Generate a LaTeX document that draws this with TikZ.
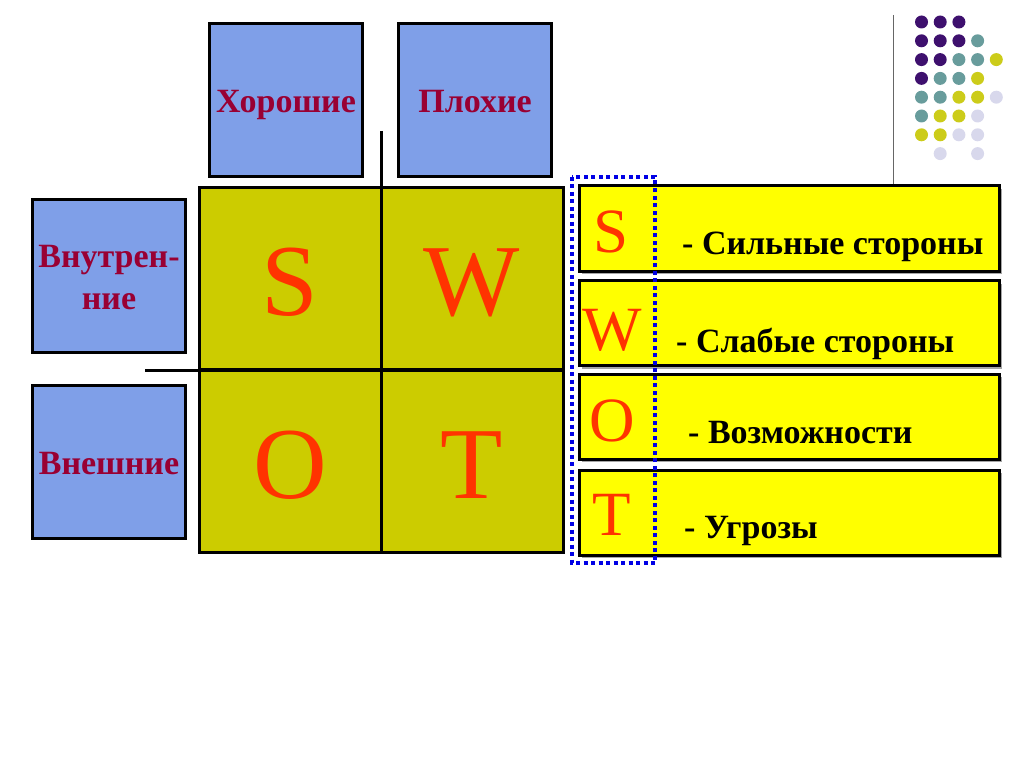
\documentclass[tikz,border=0pt]{standalone}
\usepackage{fontspec}
\setmainfont{Liberation Serif}
\usetikzlibrary{shadows}
\definecolor{swotblue}{RGB}{127,159,232}
\definecolor{swotmaroon}{RGB}{153,0,51}
\definecolor{swotolive}{RGB}{204,204,0}
\definecolor{swotyellow}{RGB}{255,255,0}
\definecolor{swotred}{RGB}{255,51,0}
\definecolor{dotpurple}{RGB}{62,16,110}
\definecolor{dotteal}{RGB}{104,156,156}
\definecolor{dotlime}{RGB}{204,204,26}
\definecolor{dotlilac}{RGB}{216,216,236}

\tikzset{
  headbox/.style={draw=black, line width=3.5pt, fill=swotblue, minimum width=153pt,
    minimum height=153pt, inner sep=0pt, align=center, text=swotmaroon,
    text height=25pt, text depth=0pt,
    font=\fontsize{34}{42}\selectfont\bfseries},
  cellbox/.style={draw=black, line width=3pt, fill=swotolive, minimum width=182pt,
    minimum height=182pt, inner sep=0pt},
  bigletter/.style={text=swotred, font=\fontsize{102}{102}\selectfont, inner sep=0pt, yshift=-4pt},
  rowbox/.style={draw=black, line width=3pt, fill=swotyellow, minimum width=420pt,
    minimum height=85pt, inner sep=0pt,
    drop shadow={shadow xshift=3pt, shadow yshift=-3pt, fill=gray!70, opacity=1}},
  rowletter/.style={text=swotred, font=\fontsize{63}{63}\selectfont, inner sep=0pt},
  rowtext/.style={anchor=base west, font=\fontsize{34}{38}\selectfont\bfseries, inner sep=0pt},
}

\begin{document}
\begin{tikzpicture}[x=1pt, y=-1pt]
\useasboundingbox (0,0) rectangle (1024,767);

% ============================================================
% ЗАГОЛОВКИ — синие блоки
% ============================================================
\node[headbox] (good) at (286, 100) {Хорошие};
\node[headbox] (bad)  at (475, 100) {Плохие};
\node[headbox, text height=67pt] (inner) at (109, 276) {Внутрен-\\ние};
\node[headbox] (outer) at (109, 462) {Внешние};

% ============================================================
% МАТРИЦА SWOT
% ============================================================
\node[cellbox] (cellS) at (290, 278.5) {};
\node[cellbox] (cellW) at (472, 278.5) {};
\node[cellbox] (cellO) at (290, 461) {};
\node[cellbox] (cellT) at (472, 461) {};
\node[bigletter] (bigS) at (cellS) {S};
\node[bigletter] (bigW) at (cellW) {W};
\node[bigletter] (bigO) at (cellO) {O};
\node[bigletter] (bigT) at (cellT) {T};

% Оси
\coordinate (axtop)  at (381, 131);
\coordinate (axleft) at (145, 370);
\draw[line width=3pt] (axtop) -- (axtop |- cellT.south);
\draw[line width=3pt] (axleft) -- (axleft -| cellW.east);

% ============================================================
% РАСШИФРОВКА — жёлтые полосы
% ============================================================
\node[rowbox] (rowS) at (789, 228.5) {};
\node[rowbox] (rowW) at (789, 323) {};
\node[rowbox] (rowO) at (789, 416.5) {};
\node[rowbox] (rowT) at (789, 512.5) {};

\node[rowletter] (letS) at (611, 232) {S};
\node[rowletter] (letW) at (612, 330) {W};
\node[rowletter] (letO) at (612, 421) {O};
\node[rowletter] (letT) at (612, 515) {T};

\node[rowtext] (txtS) at (682, 254) {- Сильные стороны};
\node[rowtext] (txtW) at (676, 352) {- Слабые стороны};
\node[rowtext] (txtO) at (688, 443) {- Возможности};
\node[rowtext] (txtT) at (684, 538) {- Угрозы};

% Пунктирная рамка вокруг букв
\draw[blue!90!black, line width=3.5pt, dash pattern=on 4pt off 3.5pt] (572, 177) rectangle (655, 563);

% ============================================================
% УКРАШЕНИЕ — точки и линия
% ============================================================
\draw[gray!80!black, line width=1pt] (893, 15) -- (rowS.north -| 893, 0);
\foreach \c/\r/\col in {
  0/0/dotpurple, 1/0/dotpurple, 2/0/dotpurple,
  0/1/dotpurple, 1/1/dotpurple, 2/1/dotpurple, 3/1/dotteal,
  0/2/dotpurple, 1/2/dotpurple, 2/2/dotteal, 3/2/dotteal, 4/2/dotlime,
  0/3/dotpurple, 1/3/dotteal, 2/3/dotteal, 3/3/dotlime,
  0/4/dotteal, 1/4/dotteal, 2/4/dotlime, 3/4/dotlime, 4/4/dotlilac,
  0/5/dotteal, 1/5/dotlime, 2/5/dotlime, 3/5/dotlilac,
  0/6/dotlime, 1/6/dotlime, 2/6/dotlilac, 3/6/dotlilac,
  1/7/dotlilac, 3/7/dotlilac}
  \fill[\col] (921.5 + 18.7*\c, 22 + 18.8*\r) circle (6.5pt);

\end{tikzpicture}
\end{document}
